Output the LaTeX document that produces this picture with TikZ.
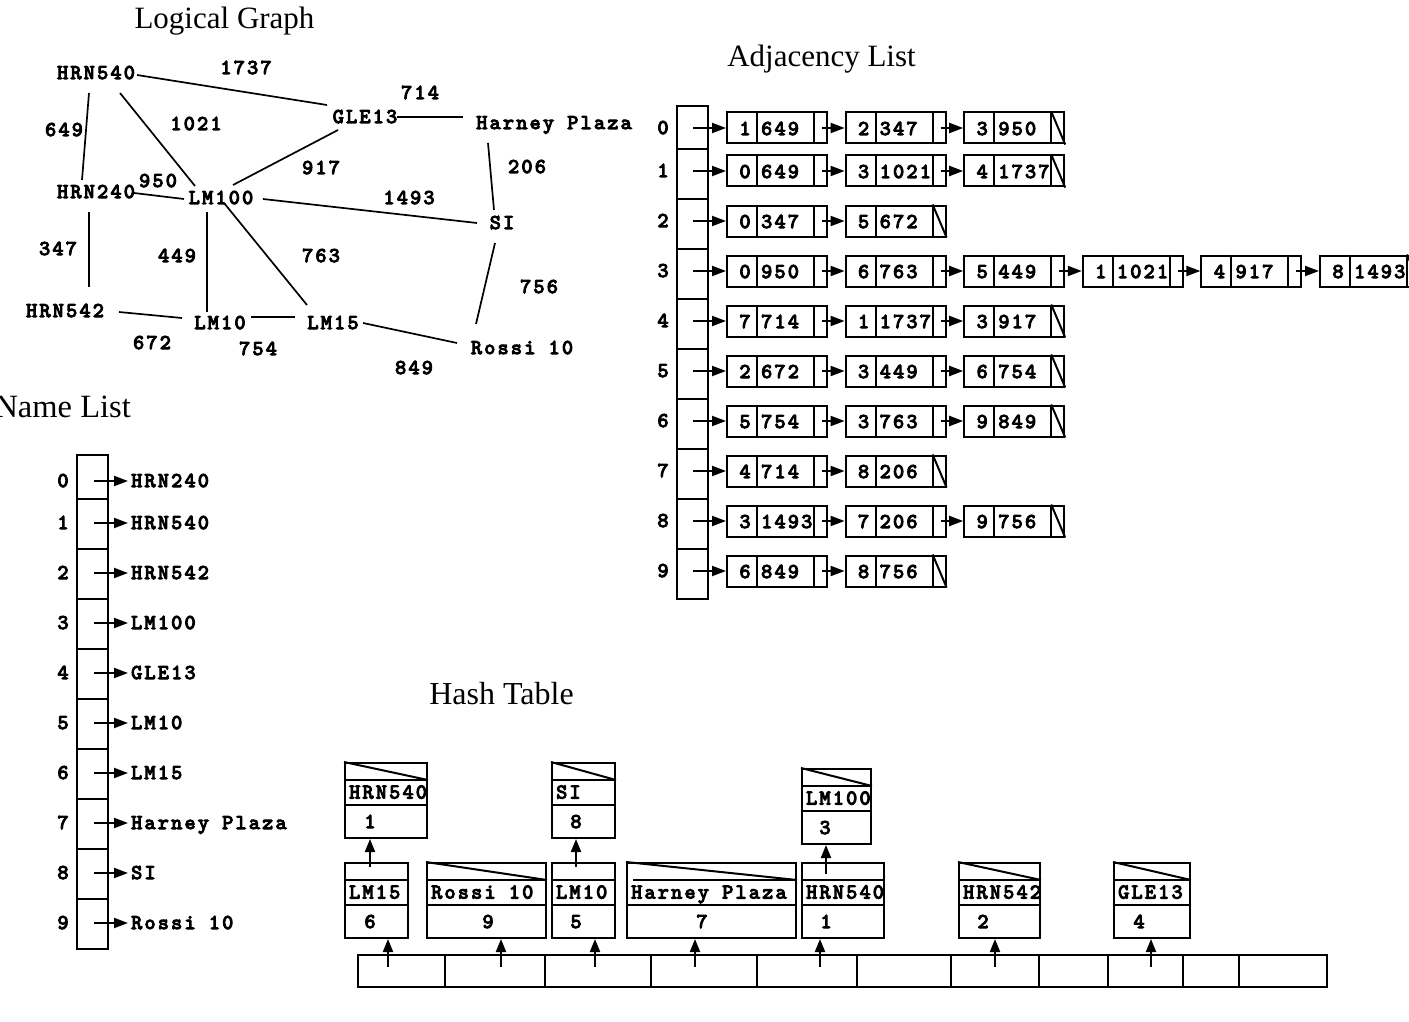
\documentclass[tikz,border=0pt]{standalone}
\usepackage{fontspec}
\newfontfamily\code{lmmono10-regular.otf}[LetterSpace=11,FakeBold=5]
\newfontfamily\ttlfont{Liberation Serif}
\usetikzlibrary{arrows.meta,calc}
\newcommand\hashbox[8]{% #1 name, #2 x, #3 y, #4 width, #5 first divider x-offset, #6 text, #7 index x-offset, #8 index
  \node[box, minimum width=#4pt, minimum height=75pt, anchor=north west] (#1) at (#2,#3) {};
  \draw[boxline] ([xshift=#5pt,yshift=-18pt]#1.north west) -- ([yshift=-18pt]#1.north east)
     ([yshift=-43pt]#1.north west) -- ([yshift=-43pt]#1.north east);
  \node[code, anchor=west] (#1-n) at ($(#1.north west)+(5,30.5)$) {#6};
  \node[code] (#1-i) at ($(#1.north west)+(#7,60)$) {#8};
}
\newcommand\hashslash[1]{\draw[boxline] (#1.north west) -- ([yshift=-18pt]#1.north east);}
\begin{document}
\begin{tikzpicture}[x=1pt,y=-1pt,
  code/.style={font=\code\fontsize{21pt}{24pt}\selectfont, inner sep=0pt, text height=12pt, text depth=0pt},
  title/.style={font=\ttlfont\fontsize{31pt}{36pt}\selectfont, inner sep=0pt},
  box/.style={draw, line width=2pt, inner sep=0pt},
  boxline/.style={line width=2pt},
  arr/.style={line width=2pt, -{Triangle[length=14pt,width=10pt]}},
  harr/.style={line width=2pt, -{Triangle[length=13pt,width=10pt]}},
  edge/.style={line width=1.7pt}]
\useasboundingbox (0,0) rectangle (1409,1022);
\fill[white] (0,0) rectangle (1409,1022);

% titles
\node[title, anchor=base] (tlg) at (224.5,29) {Logical Graph};
\node[title, anchor=base] (tal) at (821.5,67) {Adjacency List};
\node[title, anchor=base east, font=\ttlfont\fontsize{32.5pt}{36pt}\selectfont] (tnl) at (131,417) {Name List};
\node[title, anchor=base, font=\ttlfont\fontsize{32pt}{36pt}\selectfont] (tht) at (501.5,704) {Hash Table};

% ---------------- logical graph
\node[code] (g540) at (96,73) {HRN540};
\node[code] (g13) at (365,117) {GLE13};
\node[code] (ghp) at (554,123) {Harney Plaza};
\node[code] (g240) at (96,192) {HRN240};
\node[code] (g100) at (221,198) {LM100};
\node[code] (gsi) at (502,223) {SI};
\node[code] (g542) at (65,311) {HRN542};
\node[code] (g10) at (220,323) {LM10};
\node[code] (g15) at (333,323) {LM15};
\node[code] (gro) at (522,348) {Rossi 10};

\draw[edge] ([shift={(41,2)}]g540.center) -- ([shift={(-38,-12)}]g13.center);
\draw[edge] ([shift={(-7,20)}]g540.center) -- ([shift={(-14,-12)}]g240.center);
\draw[edge] ([shift={(24,20)}]g540.center) -- ([shift={(-26,-12)}]g100.center);
\draw[edge] ([shift={(38,1)}]g240.center) -- ([shift={(-37,1)}]g100.center);
\draw[edge] ([shift={(12,-13)}]g100.center) -- ([shift={(-27,13)}]g13.center);
\draw[edge] ([shift={(32,0)}]g13.center) -- ([shift={(-91,-6)}]ghp.center);
\draw[edge] ([shift={(-66,20)}]ghp.center) -- ([shift={(-8,-13)}]gsi.center);
\draw[edge] ([shift={(42,1)}]g100.center) -- ([shift={(-25,0)}]gsi.center);
\draw[edge] ([shift={(-14,14)}]g100.center) -- ([shift={(-13,-11)}]g10.center);
\draw[edge] ([shift={(3,5)}]g100.center) -- ([shift={(-26,-18)}]g15.center);
\draw[edge] ([shift={(-7,20)}]gsi.center) -- ([shift={(-46,-24)}]gro.center);
\draw[edge] ([shift={(-7,20)}]g240.center) -- ([shift={(24,-24)}]g542.center);
\draw[edge] ([shift={(54,1)}]g542.center) -- ([shift={(-38,-5)}]g10.center);
\draw[edge] ([shift={(31,-6)}]g10.center) -- ([shift={(-38,-6)}]g15.center);
\draw[edge] ([shift={(30,0)}]g15.center) -- ([shift={(-65,-5)}]gro.center);

\node[code] (w1737) at (246,68) {1737};
\node[code] (w714) at (420,93) {714};
\node[code] (w1021) at (196,124) {1021};
\node[code] (w649) at (64,130) {649};
\node[code] (w917) at (321,168) {917};
\node[code] (w206) at (527,167) {206};
\node[code] (w950) at (158,181) {950};
\node[code] (w1493) at (409,198) {1493};
\node[code] (w347) at (58,249) {347};
\node[code] (w449) at (177,256) {449};
\node[code] (w763) at (321,256) {763};
\node[code] (w756) at (539,287) {756};
\node[code] (w672) at (152,343) {672};
\node[code] (w754) at (258,349) {754};
\node[code] (w849) at (414,368) {849};

% ---------------- adjacency list
\node[box, minimum width=31pt, minimum height=493pt, anchor=north west] (adj) at (676,105) {};
\foreach \yy in {149,199,...,549} \draw[boxline] (676,\yy) -- (707,\yy);
\foreach \r/\y/\n/\lst in {
 0/128/2/{1/649,2/347,3/950},
 1/171/2/{0/649,3/1021,4/1737},
 2/221/1/{0/347,5/672},
 3/271/5/{0/950,6/763,5/449,1/1021,4/917,8/1493},
 4/321/2/{7/714,1/1737,3/917},
 5/371/2/{2/672,3/449,6/754},
 6/421/2/{5/754,3/763,9/849},
 7/471/1/{4/714,8/206},
 8/521/2/{3/1493,7/206,9/756},
 9/571/1/{6/849,8/756}}{
  \node[code] (ai\r) at (663,\y) {\r};
  \coordinate (at\r) at (693,\y);
  \foreach \v/\w [count=\k from 0] in \lst {
    \pgfmathsetmacro\xx{726+118.6*\k}
    \node[box, minimum width=100pt, minimum height=31pt, anchor=west] (a\r-\k) at (\xx,\y) {};
    \draw[boxline] ([xshift=31pt]a\r-\k.north west) -- ([xshift=31pt]a\r-\k.south west)
       ([xshift=88pt]a\r-\k.north west) -- ([xshift=88pt]a\r-\k.south west);
    \node[code] (a\r-\k-v) at ([xshift=19pt,yshift=-1pt]a\r-\k.west) {\v};
    \node[code, anchor=west] (a\r-\k-w) at ([xshift=35pt,yshift=-1pt]a\r-\k.west) {\w};
    \ifnum\k=0
      \draw[arr] (at\r) -- (a\r-\k.west);
    \else
      \pgfmathtruncatemacro\pk{\k-1}
      \draw[arr] ([xshift=-6pt]a\r-\pk.east) -- (a\r-\k.west);
    \fi
    \ifnum\k=\n
      \draw[boxline] ([xshift=88pt]a\r-\k.north west) -- (a\r-\k.south east);
    \fi
  }
}

% ---------------- name list
\node[box, minimum width=31pt, minimum height=494pt, anchor=north west] (nl) at (76,454) {};
\foreach \yy in {499,549,...,899} \draw[boxline] (76,\yy) -- (107,\yy);
\foreach \r/\y/\t in {0/481/HRN240, 1/523/HRN540, 2/573/HRN542, 3/623/LM100, 4/673/GLE13,
   5/723/LM10, 6/773/LM15, 7/823/Harney Plaza, 8/873/SI, 9/923/Rossi 10} {
  \node[code] (ni\r) at (63,\y) {\r};
  \coordinate (nt\r) at (94,\y);
  \node[code, anchor=west] (nn\r) at (131,\y) {\t};
  \draw[arr, shorten >=3pt] (nt\r) -- (nn\r.west);
}

% ---------------- hash table
\hashbox{hA}{344}{762}{82}{0}{HRN540}{26}{1}\hashslash{hA}
\hashbox{hB}{551}{762}{63}{0}{SI}{25}{8}\hashslash{hB}
\hashbox{hC}{801}{768}{69}{0}{LM100}{24}{3}\hashslash{hC}
\hashbox{h1}{344}{862}{63}{0}{LM15}{26}{6}
\hashbox{h2}{426}{862}{119}{0}{Rossi 10}{62}{9}\hashslash{h2}
\hashbox{h3}{551}{862}{63}{0}{LM10}{25}{5}
\hashbox{h4}{626}{862}{169}{7}{Harney Plaza}{76}{7}\hashslash{h4}
\hashbox{h5}{801}{862}{82}{0}{HRN540}{25}{1}
\hashbox{h6}{958}{862}{81}{0}{HRN542}{25}{2}\hashslash{h6}
\hashbox{h7}{1113}{862}{76}{0}{GLE13}{26}{4}\hashslash{h7}

\coordinate (hp1) at (370,867);
\coordinate (hp3) at (576,867);
\coordinate (hp5) at (826,874);
\draw[harr] (hp1) -- (hp1 |- hA.south);
\draw[harr] (hp3) -- (hp3 |- hB.south);
\draw[harr] (hp5) -- (hp5 |- hC.south);

\node[box, minimum width=969pt, minimum height=32pt, anchor=north west] (htab) at (357,954) {};
\foreach \xx in {445,545,651,757,857,951,1039,1108,1183,1239} \draw[boxline] (\xx,954) -- (\xx,986);
\foreach \i/\xx in {1/388,2/501,3/595,4/695,5/820,6/995,7/1151} {
  \coordinate (ht\i) at (\xx,967);
  \draw[harr] (ht\i) -- (ht\i |- h\i.south);
}
\end{tikzpicture}
\end{document}
